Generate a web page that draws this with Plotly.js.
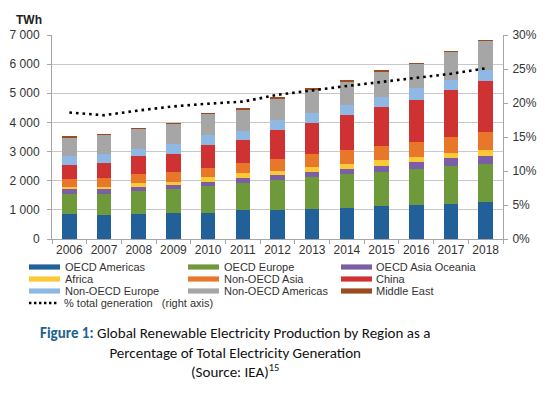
<!DOCTYPE html>
<html>
<head>
<meta charset="utf-8">
<script src="https://cdn.plot.ly/plotly-3.0.1.min.js"></script>
<style>
html,body{margin:0;padding:0;background:#fff;}
#chart{width:552px;height:396px;}
</style>
</head>
<body>
<div id="chart"></div>
<script>
// ---- data (TWh) ----
const years = ['2006','2007','2008','2009','2010','2011','2012','2013','2014','2015','2016','2017','2018'];
const oecdAmericas    = [865, 820, 855, 889, 900, 1003, 1003, 1038, 1060, 1140, 1174, 1209, 1283];
const oecdEurope      = [670, 740, 785, 816, 902, 924, 1037, 1083, 1160, 1160, 1220, 1300, 1290];
const oecdAsiaOceania = [165, 145, 155, 165, 171, 182, 160, 194, 190, 220, 263, 262, 279];
const africa          = [90, 85, 110, 80, 148, 149, 130, 171, 150, 175, 160, 171, 188];
const nonOecdAsia     = [280, 320, 313, 340, 319, 342, 410, 433, 485, 502, 513, 547, 620];
const china           = [455, 510, 622, 640, 787, 798, 1000, 1049, 1205, 1322, 1448, 1630, 1773];
const nonOecdEurope   = [315, 285, 260, 315, 331, 297, 330, 342, 335, 342, 394, 342, 353];
const nonOecdAmericas = [640, 665, 680, 685, 718, 740, 735, 798, 800, 885, 820, 947, 998];
const middleEast      = [45, 50, 45, 45, 46, 57, 55, 57, 55, 45, 62, 57, 50];
const pctTotal        = [18.6, 18.2, 18.9, 19.5, 19.9, 20.2, 21.2, 21.9, 22.5, 23.1, 23.7, 24.3, 25.1];

const seriesNames = ['OECD Americas','OECD Europe','OECD Asia Oceania','Africa','Non-OECD Asia','China','Non-OECD Europe','Non-OECD Americas','Middle East'];
const seriesValues = [oecdAmericas, oecdEurope, oecdAsiaOceania, africa, nonOecdAsia, china, nonOecdEurope, nonOecdAmericas, middleEast];
const seriesColors = ['#22609a','#6f9a3b','#7a5fa6','#fdc838','#e8772a','#cf3232','#8fb8e4','#a6a6a6','#9c4a1f'];
const lineName = '% total generation   (right axis)';

// ---- geometry helpers (pixels -> paper) ----
const W = 552, H = 396;
const M = {l: 52, r: 49, t: 35, b: 157};
const PW = W - M.l - M.r, PH = H - M.t - M.b;
const px = x => (x - M.l) / PW;
const py = y => (H - M.b - y) / PH;

const font = 'Liberation Sans, Arial, sans-serif';
const textColor = '#333333';

const traces = seriesNames.map((n, i) => ({
  type: 'bar', name: n, x: years, y: seriesValues[i],
  marker: {color: seriesColors[i], line: {width: 0}},
  showlegend: false, hoverinfo: 'x+y+name'
}));
traces.push({
  type: 'scatter', mode: 'lines', name: lineName, x: years, y: pctTotal, yaxis: 'y2',
  line: {color: '#000000', width: 2.6, dash: '2.6px,4px'}, showlegend: false
});

// ---- manual legend (3 columns) ----
const shapes = [];
const annotations = [];
const colSwatch = [29, 188, 341];
const colText = [63, 222, 374];
const rowY = [267, 279, 291];
seriesNames.forEach((n, i) => {
  const c = i % 3, r = Math.floor(i / 3);
  shapes.push({type: 'rect', xref: 'paper', yref: 'paper',
    x0: px(colSwatch[c]), x1: px(colSwatch[c] + 31), y0: py(rowY[r] + 2.6), y1: py(rowY[r] - 2.6),
    fillcolor: seriesColors[i], line: {width: 0}});
  annotations.push({xref: 'paper', yref: 'paper', x: px(colText[c]), y: py(rowY[r]),
    xanchor: 'left', yanchor: 'middle', showarrow: false, text: n,
    font: {family: font, size: 11, color: textColor}});
});
shapes.push({type: 'line', xref: 'paper', yref: 'paper',
  x0: px(29), x1: px(57), y0: py(303), y1: py(303),
  line: {color: '#000', width: 2.4, dash: '2.4px,2.6px'}});
annotations.push({xref: 'paper', yref: 'paper', x: px(62), y: py(303),
  xanchor: 'left', yanchor: 'middle', showarrow: false, text: lineName,
  font: {family: font, size: 11, color: textColor}});

// unit label
annotations.push({xref: 'paper', yref: 'paper', x: px(29), y: py(20), xanchor: 'center', yanchor: 'middle',
  showarrow: false, text: '<b>TWh</b>', font: {family: font, size: 12, color: '#222'}});

// caption (single multi-line text)
const capFont = {family: 'Carlito, Lato, sans-serif', size: 15, color: '#111'};
annotations.push({xref: 'paper', yref: 'paper', x: px(235), y: py(352), xanchor: 'center', yanchor: 'middle',
  align: 'center', showarrow: false,
  text: '<b><span style="color:#21618c">Figure 1:</span></b> Global Renewable Electricity Production by Region as a' +
        '<br>Percentage of Total Electricity Generation<br>(Source: IEA)<sup>15</sup>',
  font: capFont});

const layout = {
  width: W, height: H, margin: M,
  paper_bgcolor: '#fff', plot_bgcolor: '#fff',
  barmode: 'stack', bargap: 0.58,
  separators: '. ',
  showlegend: false,
  font: {family: font, size: 12, color: textColor},
  xaxis: {type: 'category', tickson: 'boundaries', ticks: 'outside', ticklen: 4, tickcolor: '#a6a6a6',
    tickangle: 0, showline: true, linecolor: '#a6a6a6', linewidth: 1, showgrid: false,
    tickfont: {family: font, size: 12, color: textColor}},
  yaxis: {range: [0, 7000], dtick: 1000, tickformat: ',d', showgrid: true, gridcolor: '#c8c8c8', gridwidth: 1,
    showline: true, linecolor: '#a6a6a6', ticks: 'outside', ticklen: 4, tickcolor: '#a6a6a6', zeroline: false,
    ticklabelstandoff: 5,
    tickfont: {family: font, size: 12, color: textColor}},
  yaxis2: {range: [0, 30], dtick: 5, ticksuffix: '%', overlaying: 'y', side: 'right', showgrid: false,
    showline: true, linecolor: '#a6a6a6', ticks: 'outside', ticklen: 4, tickcolor: '#a6a6a6', zeroline: false,
    ticklabelstandoff: 2,
    tickfont: {family: font, size: 12, color: textColor}},
  shapes: shapes,
  annotations: annotations
};

Plotly.newPlot('chart', traces, layout, {displayModeBar: false, staticPlot: true});
</script>
</body>
</html>
